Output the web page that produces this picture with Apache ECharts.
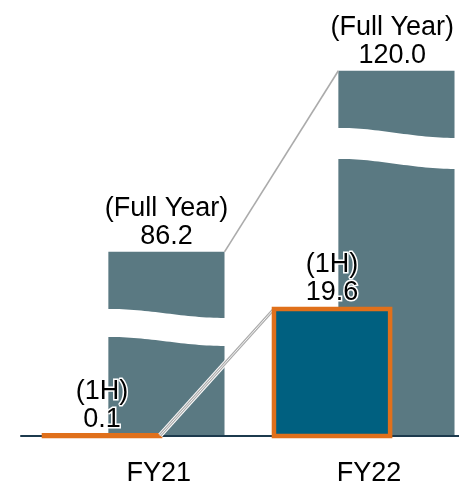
<!DOCTYPE html>
<html>
<head>
<meta charset="utf-8">
<script src="https://cdn.jsdelivr.net/npm/echarts@6/dist/echarts.min.js"></script>
<style>
  html, body { margin: 0; padding: 0; background: #fff; }
  #chart { width: 459px; height: 487px; }
</style>
</head>
<body>
<div id="chart"></div>
<script>
// Fiscal years and their results
const categories = ['FY21', 'FY22'];
const fullYear = [86.2, 120.0];
const firstHalf = [0.1, 19.6];
const fullTag = '(Full Year)';
const halfTag = '(1H)';
// Value range cut out of each tall full-year bar (drawn as a wavy gap)
const breakFrom = [14.6, 42.0];
const breakTo = [76.7, 110.4];

const FONT = "'Liberation Sans', Arial, sans-serif";
const FONT_SIZE = 27;
const LINE_H = 28;
const C_FULL = '#5a7982';
const C_HALF = '#006080';
const C_EDGE = '#e0701b';
const C_LINK = '#ababab';
const C_AXIS = '#1c3a4d';

// bar widths / offsets as fractions of one category band
const BAR_W = 0.505;
const FULL_SHIFT = 0.141;
const HALF_SHIFT = -0.139;
const GAP_PX = [28, 31];
const WAVE_PX = [9, 10];

const measureCtx = document.createElement('canvas').getContext('2d');
measureCtx.font = FONT_SIZE + 'px ' + FONT;
function textWidth(lines) {
  return Math.max.apply(null, lines.map(s => measureCtx.measureText(s).width));
}

function fullGeom(api, i) {
  const band = api.size([1, 0])[0];
  const c = api.coord([i, 0]);
  const w = band * BAR_W;
  const x0 = c[0] + band * FULL_SHIFT - w / 2;
  const yFrom = api.coord([i, breakFrom[i]])[1];
  const upperH = api.coord([i, breakTo[i]])[1] - api.coord([i, fullYear[i]])[1];
  const yUpper = yFrom - GAP_PX[i];
  return { x0: x0, x1: x0 + w, base: c[1], yFrom: yFrom, yUpper: yUpper, top: yUpper - upperH, wave: WAVE_PX[i] };
}

function halfGeom(api, i) {
  const band = api.size([1, 0])[0];
  const c = api.coord([i, 0]);
  const w = band * BAR_W;
  const x0 = c[0] + band * HALF_SHIFT - w / 2;
  const top = api.coord([i, firstHalf[i]])[1];
  return { x0: x0, x1: x0 + w, base: c[1], top: top };
}

// S-shaped edge from x0 to x1 centred on mid, dropping d pixels left to right
function waveEdge(x0, x1, mid, d) {
  const pts = [];
  const n = 32;
  for (let k = 0; k <= n; k++) {
    const t = k / n;
    pts.push([x0 + (x1 - x0) * t, mid - d / 2 + d * (1 - Math.cos(Math.PI * t)) / 2]);
  }
  return pts;
}

const chart = echarts.init(document.getElementById('chart'), null, { renderer: 'canvas' });

chart.setOption({
  animation: false,
  backgroundColor: '#ffffff',
  grid: { left: 21, right: 0, top: 0, bottom: 51, containLabel: false, outerBoundsMode: 'none' },
  xAxis: [
    {
      type: 'value',
      min: -0.4913,
      max: 1.413,
      z: 3,
      axisLine: { show: true, onZero: false, lineStyle: { color: C_AXIS, width: 2 } },
      axisTick: { show: false },
      axisLabel: { show: false },
      splitLine: { show: false }
    },
    {
      type: 'value',
      position: 'bottom',
      min: -0.6548,
      max: 1.428,
      axisLine: { show: false },
      axisTick: { show: false },
      splitLine: { show: false },
      axisLabel: {
        customValues: categories.map((_, i) => i),
        formatter: v => categories[Math.round(v)],
        fontSize: FONT_SIZE,
        lineHeight: LINE_H,
        fontFamily: FONT,
        color: '#000',
        margin: 24
      }
    }
  ],
  yAxis: { type: 'value', min: 0, max: 67.3, show: false },
  series: [
    {
      name: 'Full Year',
      type: 'custom',
      z: 1,
      xAxisIndex: 0,
      yAxisIndex: 0,
      encode: { x: 0, y: 1 },
      data: fullYear.map((v, i) => [i, v]),
      renderItem: function (params, api) {
        const i = params.dataIndex;
        const g = fullGeom(api, i);
        const lower = [[g.x0, g.base]].concat(waveEdge(g.x0, g.x1, g.yFrom, g.wave), [[g.x1, g.base]]);
        const upper = [[g.x0, g.top], [g.x1, g.top]].concat(waveEdge(g.x0, g.x1, g.yUpper, g.wave).reverse());
        const lines = [fullTag, fullYear[i].toFixed(1)];
        const half = textWidth(lines) / 2;
        const cx = Math.min((g.x0 + g.x1) / 2, api.getWidth() - 5 - half);
        const children = [
          { type: 'polygon', shape: { points: lower }, style: { fill: C_FULL } },
          { type: 'polygon', shape: { points: upper }, style: { fill: C_FULL } },
          {
            type: 'text',
            style: {
              text: lines.join('\n'), x: cx, y: g.top - 1,
              align: 'center', verticalAlign: 'bottom',
              fontSize: FONT_SIZE, fontFamily: FONT, lineHeight: LINE_H, fill: '#000'
            }
          }
        ];
        if (i > 0) {
          const p = fullGeom(api, i - 1);
          children.push({
            type: 'line',
            shape: { x1: p.x1, y1: p.top, x2: g.x0, y2: g.top },
            style: { stroke: C_LINK, lineWidth: 1.6 }
          });
        }
        return { type: 'group', children: children };
      }
    },
    {
      name: '1H',
      type: 'custom',
      z: 5,
      xAxisIndex: 0,
      yAxisIndex: 0,
      encode: { x: 0, y: 1 },
      data: firstHalf.map((v, i) => [i, v]),
      renderItem: function (params, api) {
        const i = params.dataIndex;
        const g = halfGeom(api, i);
        const children = [];
        if (i > 0) {
          const p = halfGeom(api, i - 1);
          const seg = { x1: p.x1, y1: p.top, x2: g.x0, y2: g.top };
          children.push(
            { type: 'line', shape: seg, style: { stroke: '#ffffff', lineWidth: 5 } },
            { type: 'line', shape: seg, style: { stroke: C_LINK, lineWidth: 3 } },
            { type: 'line', shape: seg, style: { stroke: '#f4f4f4', lineWidth: 1 } }
          );
        }
        children.push(
          {
            type: 'rect',
            shape: { x: g.x0, y: g.top, width: g.x1 - g.x0, height: g.base - g.top },
            style: { fill: C_HALF, stroke: C_EDGE, lineWidth: 4.5 }
          },
          {
            type: 'text',
            style: {
              text: halfTag + '\n' + firstHalf[i].toFixed(1), x: (g.x0 + g.x1) / 2, y: g.top - 2,
              align: 'center', verticalAlign: 'bottom',
              fontSize: FONT_SIZE, fontFamily: FONT, lineHeight: LINE_H, fill: '#000',
              stroke: '#ffffff', lineWidth: 3
            }
          }
        );
        return { type: 'group', children: children };
      }
    }
  ]
});
</script>
</body>
</html>
